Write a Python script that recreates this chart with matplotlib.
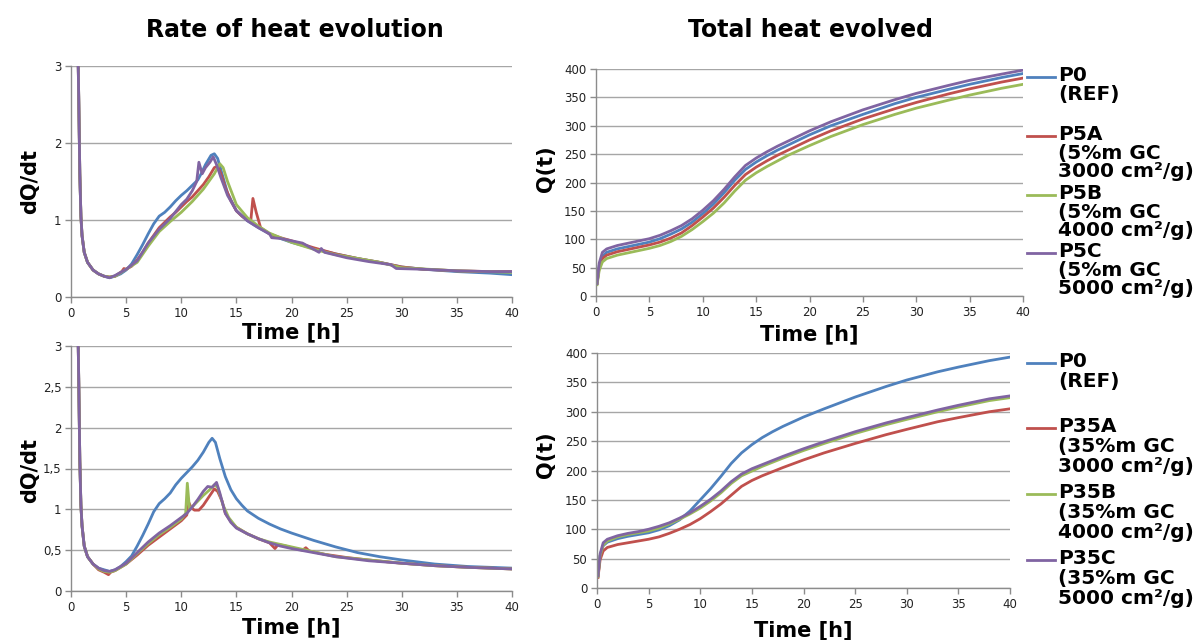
import matplotlib
matplotlib.use("Agg")
import matplotlib.pyplot as plt
from matplotlib.lines import Line2D

# Excel-like colour set
colors = ["#4F81BD", "#C0504D", "#9BBB59", "#8064A2"]

# ---------- rate of heat evolution, 5 % series ----------
t_r5_p0 = [0.6, 0.7, 0.8, 0.9, 1.0, 1.2, 1.5, 2, 2.5, 3, 3.5, 4, 4.5, 5, 5.5, 6, 6.5, 7, 7.5, 8, 8.5, 9, 9.5,
           10, 10.5, 11, 11.5, 11.8, 12.2, 12.7, 13.0, 13.3, 13.7, 14.2, 15, 16, 17, 18, 19, 20, 22, 24, 26,
           28, 30, 32, 35, 38, 40]
r5_p0 = [3.5, 2.6, 1.6, 1.05, 0.8, 0.58, 0.45, 0.35, 0.3, 0.27, 0.25, 0.27, 0.3, 0.35, 0.43, 0.55, 0.68, 0.82,
         0.95, 1.05, 1.1, 1.17, 1.25, 1.32, 1.38, 1.45, 1.52, 1.6, 1.72, 1.84, 1.86, 1.8, 1.6, 1.35, 1.12, 0.99,
         0.9, 0.82, 0.76, 0.71, 0.63, 0.56, 0.5, 0.45, 0.39, 0.36, 0.33, 0.31, 0.29]
t_r5_a = [0.6, 0.7, 0.8, 0.9, 1.0, 1.2, 1.5, 2, 2.5, 3, 3.5, 4, 4.6, 4.8, 5, 5.5, 6, 6.5, 7, 7.5, 8, 8.5, 9, 9.5,
          10, 10.5, 11, 11.5, 12, 12.5, 13, 13.3, 13.6, 14, 14.5, 15, 15.5, 16, 16.3, 16.5, 16.8, 17.2, 18, 19,
          20, 22, 24, 26, 28, 30, 32, 35, 38, 40]
r5_a = [3.5, 2.6, 1.6, 1.05, 0.8, 0.58, 0.45, 0.35, 0.3, 0.27, 0.26, 0.27, 0.33, 0.37, 0.36, 0.4, 0.48, 0.58,
        0.7, 0.8, 0.9, 0.97, 1.04, 1.1, 1.17, 1.24, 1.3, 1.38, 1.46, 1.56, 1.68, 1.7, 1.6, 1.42, 1.25, 1.12,
        1.05, 1.0, 0.98, 1.28, 1.1, 0.9, 0.82, 0.77, 0.73, 0.64, 0.56, 0.5, 0.45, 0.39, 0.36, 0.34, 0.33, 0.33]
t_r5_b = [0.6, 0.7, 0.8, 0.9, 1.0, 1.2, 1.5, 2, 2.5, 3, 3.5, 4, 5, 6, 7, 8, 9, 10, 11, 12, 12.5, 13, 13.5, 13.8,
          14.2, 15, 16, 17, 18, 20, 22, 24, 26, 28, 30, 35, 40]
r5_b = [3.5, 2.6, 1.6, 1.05, 0.8, 0.58, 0.45, 0.35, 0.3, 0.27, 0.26, 0.27, 0.36, 0.45, 0.66, 0.85, 0.98, 1.1,
        1.24, 1.4, 1.5, 1.6, 1.73, 1.68, 1.5, 1.2, 1.03, 0.92, 0.83, 0.71, 0.62, 0.55, 0.5, 0.45, 0.38, 0.34,
        0.32]
t_r5_c = [0.6, 0.7, 0.8, 0.9, 1.0, 1.2, 1.5, 2, 2.5, 3, 3.5, 4, 5, 6, 7, 8, 9, 10, 10.5, 11, 11.4, 11.6, 11.9,
          12.2, 12.6, 12.9, 13.2, 13.6, 14.2, 15, 16, 17, 18, 18.2, 19, 20, 21, 22.5, 22.7, 23, 25, 27, 29, 29.5,
          32, 35, 38, 40]
r5_c = [3.5, 2.6, 1.6, 1.05, 0.8, 0.58, 0.45, 0.35, 0.3, 0.27, 0.25, 0.28, 0.36, 0.47, 0.7, 0.88, 1.02, 1.2,
        1.27, 1.38, 1.5, 1.75, 1.6, 1.68, 1.75, 1.82, 1.72, 1.55, 1.32, 1.12, 0.99, 0.9, 0.82, 0.77, 0.76, 0.73,
        0.7, 0.58, 0.63, 0.58, 0.51, 0.46, 0.42, 0.37, 0.36, 0.34, 0.33, 0.33]

# ---------- rate of heat evolution, 35 % series ----------
t_r35_p0 = [0.6, 0.7, 0.8, 0.9, 1.0, 1.2, 1.5, 2, 2.5, 3, 3.5, 4, 4.5, 5, 5.5, 6, 6.5, 7, 7.5, 8, 8.5, 9, 9.5,
            10, 10.5, 11, 11.5, 12, 12.5, 12.8, 13.1, 13.5, 14, 14.5, 15, 15.5, 16, 17, 18, 19, 20, 22, 24, 26,
            28, 30, 33, 36, 40]
r35_p0 = [3.5, 2.6, 1.6, 1.05, 0.8, 0.55, 0.42, 0.33, 0.28, 0.26, 0.24, 0.26, 0.3, 0.36, 0.43, 0.55, 0.68, 0.82,
          0.97, 1.07, 1.13, 1.2, 1.3, 1.38, 1.45, 1.52, 1.6, 1.7, 1.82, 1.87, 1.82, 1.62, 1.4, 1.24, 1.13, 1.05,
          0.98, 0.89, 0.82, 0.76, 0.71, 0.62, 0.54, 0.47, 0.42, 0.38, 0.33, 0.3, 0.28]
t_r35_a = [0.6, 0.7, 0.8, 0.9, 1.0, 1.2, 1.5, 2, 2.5, 3, 3.4, 3.6, 4, 5, 6, 7, 8, 9, 10, 10.5, 10.7, 10.9, 11.2,
           11.6, 12, 12.5, 13, 13.3, 13.7, 14, 14.5, 15, 16, 17, 18, 18.5, 18.8, 19.5, 20, 21, 21.3, 21.6, 23,
           25, 27, 30, 33, 36, 40]
r35_a = [3.5, 2.6, 1.6, 1.05, 0.8, 0.55, 0.42, 0.33, 0.26, 0.23, 0.2, 0.23, 0.25, 0.33, 0.44, 0.56, 0.66, 0.76,
         0.86, 0.93, 1.08, 1.02, 0.99, 0.99, 1.05, 1.15, 1.25, 1.22, 1.1, 0.95, 0.85, 0.78, 0.7, 0.64, 0.59,
         0.52, 0.57, 0.55, 0.53, 0.5, 0.53, 0.49, 0.45, 0.41, 0.38, 0.34, 0.31, 0.29, 0.27]
t_r35_b = [0.6, 0.7, 0.8, 0.9, 1.0, 1.2, 1.5, 2, 2.5, 3, 3.5, 4, 5, 6, 7, 8, 9, 10, 10.4, 10.55, 10.75, 11, 11.5,
           12, 12.5, 13, 13.3, 13.8, 14.3, 15, 16, 17, 18, 19, 20, 22, 24, 27, 30, 33, 36, 40]
r35_b = [3.5, 2.6, 1.6, 1.05, 0.8, 0.55, 0.42, 0.33, 0.27, 0.24, 0.23, 0.25, 0.33, 0.46, 0.58, 0.69, 0.78, 0.88,
         0.95, 1.32, 1.0, 1.03, 1.1, 1.17, 1.23, 1.3, 1.27, 1.05, 0.9, 0.78, 0.7, 0.64, 0.6, 0.57, 0.54, 0.48,
         0.42, 0.38, 0.34, 0.31, 0.29, 0.27]
t_r35_c = [0.6, 0.7, 0.8, 0.9, 1.0, 1.2, 1.5, 2, 2.5, 3, 3.5, 4, 5, 6, 7, 8, 9, 10, 10.5, 11, 11.5, 12, 12.4,
           12.8, 13.2, 13.5, 14, 14.5, 15, 16, 17, 18, 19, 20, 22, 24, 27, 30, 33, 36, 40]
r35_c = [3.5, 2.6, 1.6, 1.05, 0.8, 0.55, 0.42, 0.33, 0.28, 0.25, 0.24, 0.26, 0.34, 0.47, 0.6, 0.71, 0.8, 0.9,
         0.95, 1.03, 1.12, 1.22, 1.28, 1.27, 1.33, 1.2, 0.95, 0.84, 0.77, 0.7, 0.64, 0.59, 0.55, 0.52, 0.47,
         0.42, 0.37, 0.34, 0.31, 0.29, 0.27]

# ---------- total heat evolved ----------
t_q = [0.1, 0.3, 0.6, 1, 2, 3, 4, 5, 6, 7, 8, 9, 10, 11, 12, 13, 14, 15, 16, 17, 18, 20, 22, 25, 28, 30, 33,
       35, 38, 40]
q5_p0 = [22, 54, 70, 77, 83, 87, 91, 95, 101, 109, 118, 130, 145, 162, 182, 204, 223, 236, 247, 257, 266, 284,
         300, 320, 339, 350, 364, 373, 385, 392]
q5_a = [22, 50, 66, 72, 78, 82, 86, 90, 95, 102, 111, 124, 139, 155, 174, 195, 214, 227, 238, 248, 257, 275,
        291, 312, 330, 341, 356, 365, 377, 384]
q5_b = [20, 45, 60, 66, 72, 76, 80, 84, 89, 96, 105, 117, 131, 146, 164, 185, 204, 217, 228, 238, 248, 265,
        281, 302, 320, 331, 345, 354, 366, 373]
q5_c = [22, 58, 77, 83, 89, 93, 97, 101, 107, 115, 124, 136, 151, 168, 188, 210, 230, 243, 254, 264, 273, 291,
        307, 328, 346, 357, 371, 380, 391, 398]
q35_p0 = [20, 55, 72, 78, 84, 88, 91, 94, 99, 106, 116, 131, 150, 169, 190, 212, 230, 244, 256, 266, 275, 291,
          305, 325, 343, 354, 368, 376, 387, 393]
q35_a = [18, 48, 63, 69, 74, 77, 80, 83, 87, 93, 100, 108, 118, 130, 143, 158, 173, 183, 191, 198, 205, 218,
         230, 246, 261, 270, 283, 290, 300, 305]
q35_b = [20, 55, 73, 80, 87, 91, 94, 97, 102, 109, 117, 126, 136, 148, 162, 178, 191, 199, 207, 214, 221, 234,
         246, 263, 278, 287, 300, 308, 319, 324]
q35_c = [21, 58, 77, 83, 89, 93, 96, 100, 105, 111, 119, 128, 139, 151, 165, 181, 194, 203, 210, 217, 224, 237,
         249, 266, 281, 290, 303, 311, 322, 327]

labels_5 = ["P0\n(REF)", "P5A\n(5%m GC\n3000 cm²/g)", "P5B\n(5%m GC\n4000 cm²/g)", "P5C\n(5%m GC\n5000 cm²/g)"]
labels_35 = ["P0\n(REF)", "P35A\n(35%m GC\n3000 cm²/g)", "P35B\n(35%m GC\n4000 cm²/g)",
             "P35C\n(35%m GC\n5000 cm²/g)"]

W, H = 1202, 640
fig = plt.figure(figsize=(W / 100, H / 100), dpi=100)


def px_axes(x0, y0, x1, y1):
    # pixel box (top-left origin) -> axes
    return fig.add_axes([x0 / W, 1 - y1 / H, (x1 - x0) / W, (y1 - y0) / H])


def style(ax, ylim, yticks, yticklabels, ylab, ylab_x, ylab_y, xlab_y):
    ax.set_xlim(0, 40)
    ax.set_ylim(*ylim)
    ax.set_xticks(range(0, 41, 5))
    ax.set_yticks(yticks)
    ax.set_yticklabels(yticklabels)
    for s in ["top", "right"]:
        ax.spines[s].set_visible(False)
    for s in ["left", "bottom"]:
        ax.spines[s].set_color("#8c8c8c")
        ax.spines[s].set_linewidth(1.0)
    ax.grid(axis="y", color="#a6a6a6", linewidth=1.0)
    ax.set_axisbelow(True)
    ax.tick_params(colors="#8c8c8c", labelcolor="#222222", labelsize=8.5, length=4, width=1.0, pad=3)
    ax.set_ylabel(ylab, fontsize=15, fontweight="bold", va="center")
    ax.yaxis.set_label_coords(ylab_x, ylab_y)
    ax.set_xlabel("Time [h]", fontsize=15, fontweight="bold", va="center")
    ax.xaxis.set_label_coords(0.5, xlab_y)


lw = 2.0

ax1 = px_axes(71, 66, 512, 297)
for t, v, c in zip([t_r5_p0, t_r5_a, t_r5_b, t_r5_c], [r5_p0, r5_a, r5_b, r5_c], colors):
    ax1.plot(t, v, color=c, lw=lw)
style(ax1, (0, 3), [0, 1, 2, 3], ["0", "1", "2", "3"], "dQ/dt", -0.093, 0.5, -0.155)

ax2 = px_axes(71, 346, 512, 591)
for t, v, c in zip([t_r35_p0, t_r35_a, t_r35_b, t_r35_c], [r35_p0, r35_a, r35_b, r35_c], colors):
    ax2.plot(t, v, color=c, lw=lw)
style(ax2, (0, 3), [0, 0.5, 1, 1.5, 2, 2.5, 3], ["0", "0,5", "1", "1,5", "2", "2,5", "3"],
      "dQ/dt", -0.093, 0.49, -0.15)

ax3 = px_axes(596, 69, 1023, 296)
for v, c in zip([q5_p0, q5_a, q5_b, q5_c], colors):
    ax3.plot(t_q, v, color=c, lw=lw)
style(ax3, (0, 400), range(0, 401, 50), [str(i) for i in range(0, 401, 50)], "Q(t)", -0.117, 0.56, -0.17)

ax4 = px_axes(597, 353, 1010, 588)
for v, c in zip([q35_p0, q35_a, q35_b, q35_c], colors):
    ax4.plot(t_q, v, color=c, lw=lw)
style(ax4, (0, 400), range(0, 401, 50), [str(i) for i in range(0, 401, 50)], "Q(t)", -0.123, 0.566, -0.18)

fig.text(295 / W, 1 - 30 / H, "Rate of heat evolution", ha="center", va="center", fontsize=17, fontweight="bold")
fig.text(810 / W, 1 - 30 / H, "Total heat evolved", ha="center", va="center", fontsize=17, fontweight="bold")


def legend(labels, ys, step):
    for lab, y, c in zip(labels, ys, colors):
        fig.add_artist(Line2D([1027 / W, 1055 / W], [1 - y / H, 1 - y / H], color=c, lw=2.0))
        fig.text(1058 / W, 1 - (y - 11) / H, lab, ha="left", va="top", fontsize=14.5, fontweight="bold",
                 linespacing=step)


legend(labels_5, [77, 136, 195, 253], 0.97)
legend(labels_35, [363, 428, 494, 560], 1.08)

fig.savefig("out.png", dpi=100)
